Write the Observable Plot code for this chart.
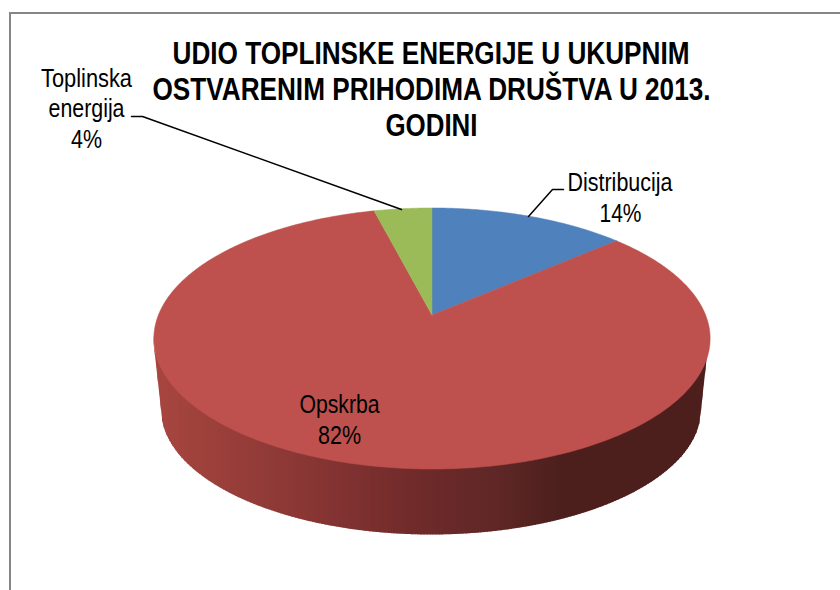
<!DOCTYPE html>
<html>
<head>
<meta charset="utf-8">
<script src="https://cdn.jsdelivr.net/npm/d3@7"></script>
<script src="https://cdn.jsdelivr.net/npm/@observablehq/plot@0.6"></script>
<style>html,body{margin:0;padding:0;background:#fff}svg{display:block}</style>
</head>
<body>
<div id="chart"></div>
<script>
const categories = ["Distribucija", "Opskrba", "Toplinska energija"];
const shares = [13.6, 82.4, 4];
const sliceColors = ["#4f81bd", "#be504d", "#9bbb59"];
const titleLines = ["UDIO TOPLINSKE ENERGIJE U UKUPNIM", "OSTVARENIM PRIHODIMA DRUŠTVA U 2013.", "GODINI"];
const titleX = [430.5, 431, 431];
const titleY = [63, 99, 135];
const titleWidths = [517, 558, 92];
const labelLines = ["Toplinska", "energija", "4%", "Distribucija", "14%", "Opskrba", "82%"];
const labelX = [86, 86, 86, 619.5, 620, 339, 339];
const labelY = [86, 116, 147, 190, 221, 412, 443];
const labelWidths = [91, 76, 31, 105, 42, 80, 43];
const leaderA = {x: [131, 142, 401], y: [116, 116, 209]};
const leaderB = {x: [563, 552, 528], y: [189, 189, 216]};
const sideStopX = [153, 300, 420, 500, 560, 710];
const sideStopC = ["#a8463f", "#8a3735", "#6f2a2a", "#5e2726", "#4c1f1d", "#4c1f1d"];

// perspective view of the disc: apex, far/near foreshortening
const apex = [431.5, 314.5], f = 273.6, g = 126.3, k = 0.18;
const project = a => {
  const u = Math.sin(a), v = Math.cos(a), d = 1 + k * v;
  return [apex[0] + f * u / d, apex[1] - g * v / d];
};

// top face polygons from the shares
const total = d3.sum(shares);
const slices = [];
let acc = 0;
categories.forEach((name, i) => {
  const a0 = acc / total * 2 * Math.PI;
  acc += shares[i];
  const a1 = acc / total * 2 * Math.PI;
  const n = Math.ceil((a1 - a0) * 90);
  slices.push({name, x: apex[0], y: apex[1]});
  for (let j = 0; j <= n; j++) {
    const p = project(a0 + (a1 - a0) * j / n);
    slices.push({name, x: p[0], y: p[1]});
  }
  slices.push({name, x: apex[0], y: apex[1]});
});

// rim: vertical strips between top and bottom discs
const topDisc = {cx: 431, cy: 337.5, rx: 278, ry: 130.5};
const botDisc = {cx: 431, cy: 409.5, rx: 270, ry: 125};
const lower = (e, x) => e.cy + e.ry * Math.sqrt(Math.max(0, 1 - ((x - e.cx) / e.rx) ** 2));
const sideColor = d3.scaleLinear().domain(sideStopX).range(sideStopC);
const strips = [];
for (let x = topDisc.cx - topDisc.rx; x < topDisc.cx + topDisc.rx; x += 1.5) {
  const edge = xx => {
    const dx = Math.abs(xx - botDisc.cx);
    if (dx <= botDisc.rx) return lower(botDisc, xx);
    const t = (dx - botDisc.rx) / (topDisc.rx - botDisc.rx);
    return botDisc.cy + (topDisc.cy - botDisc.cy) * t;
  };
  const c = sideColor(x);
  [x, Math.min(x + 2, topDisc.cx + topDisc.rx)].forEach(xx => {
    strips.push({s: x, x: xx, y1: lower(topDisc, xx) - 2, y2: edge(xx), c});
  });
}

const titles = titleLines.map((t, i) => ({t, x: titleX[i], y: titleY[i], w: titleWidths[i]}));
const labels = labelLines.map((t, i) => ({t, x: labelX[i], y: labelY[i], w: labelWidths[i]}));
const leader = (o, id) => o.x.map((x, i) => ({id, x, y: o.y[i]}));
const font = "'Liberation Sans','Arial',sans-serif";

const chart = Plot.plot({
  width: 840, height: 590,
  marginTop: 0, marginRight: 0, marginBottom: 0, marginLeft: 0,
  style: {background: "#fff", fontFamily: font},
  x: {domain: [0, 840], range: [0, 840], axis: null},
  y: {domain: [0, 590], range: [0, 590], axis: null},
  color: {domain: categories, range: sliceColors},
  marks: [
    Plot.ruleX([9.5], {y1: 12.5, y2: 590, stroke: "#868686", strokeWidth: 2}),
    Plot.ruleY([12.5], {x1: 9, x2: 840, stroke: "#868686", strokeWidth: 2}),
    Plot.areaY(strips, {x: "x", y1: "y1", y2: "y2", z: "s", fill: {value: "c", scale: null}}),
    Plot.line(slices, {x: "x", y: "y", z: "name", fill: "name", stroke: "name", strokeWidth: 0.5}),
    Plot.line(leader(leaderA, "a"), {x: "x", y: "y", stroke: "#000", strokeWidth: 1.5}),
    Plot.line(leader(leaderB, "b"), {x: "x", y: "y", stroke: "#000", strokeWidth: 1.5}),
    Plot.text(titles, {x: "x", y: "y", text: "t", lineAnchor: "bottom", textAnchor: "middle", fontSize: 31, fontWeight: "bold", fill: "#000"}),
    Plot.text(labels, {x: "x", y: "y", text: "t", lineAnchor: "bottom", textAnchor: "middle", fontSize: 25, fill: "#000"})
  ]
});
// No narrow font is installed: condense the real text to the reference's widths
const widthOf = new Map([...titles, ...labels].map(d => [d.t, d.w]));
chart.querySelectorAll("text").forEach(el => {
  const w = widthOf.get(el.textContent);
  if (w) { el.setAttribute("textLength", w); el.setAttribute("lengthAdjust", "spacingAndGlyphs"); }
});
document.getElementById("chart").append(chart);
</script>
</body>
</html>
